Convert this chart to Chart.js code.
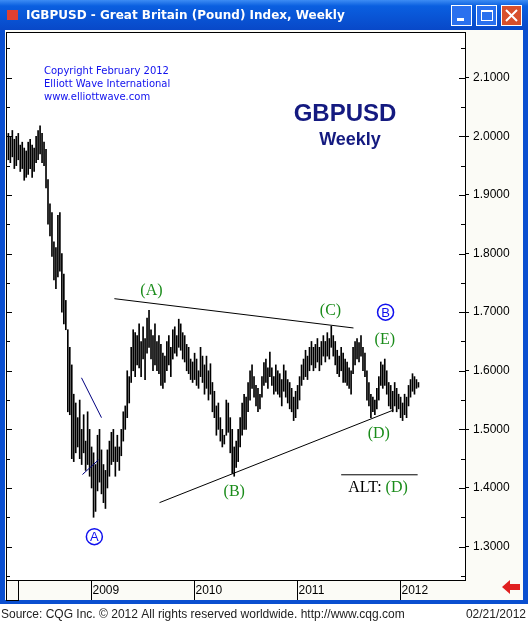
<!DOCTYPE html>
<html><head><meta charset="utf-8">
<script src="https://cdn.jsdelivr.net/npm/chart.js@4"></script>
<style>html,body{margin:0;padding:0;background:#fff}#c{display:block}</style>
</head><body>
<div style="width:528px;height:624px"><canvas id="c" width="528" height="624"></canvas></div>
<script>
// weekly highs / lows, GBPUSD, week 0 = early March 2008
const highs = [
2.005,2.000,2.010,1.995,2.000,2.005,1.985,1.990,1.980,1.975,
1.990,1.995,1.985,1.980,2.000,2.010,2.018,2.005,1.990,1.978,
1.926,1.885,1.870,1.820,1.810,1.865,1.870,1.800,1.765,1.720,
1.670,1.640,1.610,1.560,1.545,1.520,1.550,1.500,1.525,1.480,
1.530,1.500,1.470,1.460,1.440,1.490,1.500,1.465,1.440,1.430,
1.465,1.480,1.495,1.500,1.470,1.490,1.470,1.500,1.530,1.540,
1.600,1.590,1.640,1.670,1.665,1.660,1.680,1.650,1.675,1.655,
1.690,1.703,1.670,1.660,1.680,1.650,1.660,1.645,1.630,1.625,
1.650,1.660,1.640,1.670,1.675,1.660,1.688,1.680,1.665,1.660,
1.645,1.640,1.620,1.615,1.630,1.620,1.600,1.640,1.625,1.610,
1.625,1.600,1.612,1.580,1.565,1.540,1.545,1.520,1.500,1.490,
1.550,1.545,1.520,1.500,1.470,1.480,1.500,1.520,1.545,1.560,
1.555,1.580,1.600,1.610,1.590,1.575,1.570,1.560,1.590,1.614,
1.620,1.605,1.632,1.605,1.590,1.610,1.600,1.595,1.585,1.610,
1.600,1.585,1.580,1.570,1.555,1.565,1.575,1.590,1.610,1.620,
1.635,1.625,1.640,1.650,1.640,1.645,1.655,1.640,1.650,1.660,
1.650,1.665,1.655,1.676,1.660,1.650,1.635,1.625,1.640,1.630,
1.620,1.615,1.605,1.600,1.640,1.650,1.655,1.648,1.660,1.640,
1.630,1.600,1.580,1.560,1.555,1.550,1.570,1.590,1.615,1.610,
1.620,1.600,1.580,1.575,1.565,1.580,1.570,1.560,1.555,1.545,
1.560,1.555,1.575,1.585,1.595,1.590,1.585,1.580];
const lows = [
1.960,1.955,1.965,1.945,1.950,1.960,1.940,1.945,1.925,1.930,
1.935,1.945,1.930,1.940,1.955,1.960,1.970,1.955,1.950,1.912,
1.850,1.830,1.795,1.755,1.740,1.760,1.770,1.700,1.680,1.670,
1.530,1.525,1.450,1.445,1.460,1.470,1.450,1.440,1.460,1.430,
1.440,1.420,1.400,1.350,1.360,1.395,1.410,1.390,1.375,1.365,
1.400,1.420,1.440,1.445,1.420,1.445,1.430,1.455,1.480,1.500,
1.520,1.545,1.580,1.600,1.590,1.610,1.605,1.590,1.620,1.585,
1.630,1.640,1.620,1.600,1.610,1.600,1.595,1.575,1.570,1.580,
1.600,1.610,1.590,1.620,1.630,1.625,1.640,1.635,1.620,1.615,
1.600,1.595,1.585,1.580,1.585,1.575,1.570,1.590,1.580,1.560,
1.570,1.550,1.560,1.530,1.520,1.490,1.500,1.480,1.470,1.475,
1.490,1.495,1.460,1.425,1.420,1.435,1.445,1.470,1.490,1.500,
1.500,1.530,1.550,1.570,1.555,1.540,1.530,1.535,1.555,1.575,
1.580,1.570,1.590,1.575,1.560,1.565,1.560,1.555,1.540,1.565,
1.555,1.545,1.535,1.530,1.515,1.520,1.535,1.550,1.575,1.585,
1.590,1.585,1.600,1.610,1.600,1.605,1.615,1.600,1.610,1.625,
1.615,1.625,1.620,1.640,1.625,1.610,1.595,1.590,1.600,1.580,
1.580,1.575,1.570,1.560,1.595,1.610,1.620,1.615,1.625,1.600,
1.590,1.550,1.540,1.520,1.530,1.525,1.535,1.550,1.575,1.570,
1.575,1.560,1.540,1.535,1.530,1.540,1.530,1.535,1.520,1.515,
1.525,1.520,1.540,1.555,1.565,1.560,1.570,1.572];
const yearLabels = ['2009', '2010', '2011', '2012'];
const yearStartWeek = [41.5, 93.5, 145.5, 197.5];
const priceTicks = [1.3, 1.4, 1.5, 1.6, 1.7, 1.8, 1.9, 2.0, 2.1];
// wave labels [text, week, price, colour, circled]
const waveLabels = [
  ['(A)', 72.2, 1.736, '#1a8c1a', false],
  ['(B)', 114, 1.393, '#1a8c1a', false],
  ['(C)', 162.6, 1.702, '#1a8c1a', false],
  ['(D)', 187, 1.492, '#1a8c1a', false],
  ['(E)', 190, 1.653, '#1a8c1a', false],
  ['A', 43.4, 1.317, '#1010ee', true],
  ['B', 190.4, 1.700, '#1010ee', true]
];
// trend lines [w1, p1, w2, p2, colour]
const trendLines = [
  [53.5, 1.723, 174.2, 1.673, '#000'],
  [76.3, 1.375, 194.4, 1.533, '#000'],
  [36.9, 1.588, 47, 1.520, '#000080'],
  [37.4, 1.423, 45.5, 1.448, '#000080'],
  [168, 1.4225, 206.6, 1.4225, '#000']
];

const bars = highs.map((h, i) => ({x: i, y: [lows[i], h]}));

const decor = {
  id: 'decor',
  beforeDraw(c) {
    const g = c.ctx, a = c.chartArea;
    g.save();
    g.fillStyle = '#fff'; g.fillRect(0, 0, 528, 624);
    // window frame
    const grd = g.createLinearGradient(0, 0, 0, 30);
    grd.addColorStop(0, '#3d8cf4'); grd.addColorStop(0.2, '#0a5fe0'); grd.addColorStop(1, '#0848c8');
    g.fillStyle = grd; g.fillRect(0, 0, 528, 30);
    g.fillStyle = '#0a4fd0';
    g.fillRect(0, 30, 5, 574); g.fillRect(523, 30, 5, 574); g.fillRect(0, 600, 528, 4);
    g.fillStyle = '#fbfbf6'; g.fillRect(5, 30, 518, 570);
    g.fillStyle = '#fff'; g.fillRect(a.left, a.top, a.right - a.left, a.bottom - a.top);
    // title
    g.fillStyle = '#e04030'; g.fillRect(7, 10, 11, 10);
    g.fillStyle = '#fff'; g.font = 'bold 12px "DejaVu Sans"'; g.textBaseline = 'middle';
    g.fillText('IGBPUSD - Great Britain (Pound) Index, Weekly', 26, 16);
    [451, 476].forEach(x => { g.fillStyle = '#2a70ee'; g.fillRect(x, 5, 21, 21); g.strokeStyle = '#fff'; g.strokeRect(x + .5, 5.5, 20, 20); });
    g.fillStyle = '#fff'; g.fillRect(457, 18, 7, 3); g.strokeRect(481.5, 10.5, 11, 10); g.fillRect(481, 10, 12, 2);
    g.fillStyle = '#d8502c'; g.fillRect(501, 5, 21, 21); g.strokeRect(501.5, 5.5, 20, 20);
    g.strokeStyle = '#fff'; g.lineWidth = 2; g.beginPath(); g.moveTo(506, 10); g.lineTo(517, 21); g.moveTo(517, 10); g.lineTo(506, 21); g.stroke();
    g.restore();
  },
  afterDraw(c) {
    const g = c.ctx, a = c.chartArea, xs = c.scales.x, ys = c.scales.y;
    g.save();
    g.strokeStyle = '#000'; g.lineWidth = 1;
    g.strokeRect(a.left + .5, a.top + .5, a.right - a.left, a.bottom - a.top);
    // minor ticks on both edges
    for (let v = 1.25; v < 2.18; v += 0.05) {
      const y = Math.round(ys.getPixelForValue(v)) + .5, len = Math.abs(v * 10 - Math.round(v * 10)) < 0.01 ? 6 : 4;
      g.beginPath(); g.moveTo(a.left, y); g.lineTo(a.left + len, y); g.moveTo(a.right, y); g.lineTo(a.right - len, y); g.stroke();
    }
    // time axis strip
    g.font = '12px "Liberation Sans"'; g.fillStyle = '#000'; g.textBaseline = 'middle'; g.textAlign = 'left';
    g.strokeRect(6.5, a.bottom + .5, 12, 20);
    yearStartWeek.forEach((w, i) => {
      const x = Math.round(xs.getPixelForValue(w)) + .5;
      g.beginPath(); g.moveTo(x, a.bottom); g.lineTo(x, a.bottom + 20); g.stroke();
      g.fillText(yearLabels[i], x + 1, a.bottom + 11);
    });
    // red arrow
    g.fillStyle = '#e02020'; g.beginPath();
    g.moveTo(502, 587); g.lineTo(510, 580); g.lineTo(510, 584); g.lineTo(520, 584); g.lineTo(520, 590); g.lineTo(510, 590); g.lineTo(510, 594); g.closePath(); g.fill();
    // footer
    g.fillStyle = '#222'; g.font = '12px "Liberation Sans"';
    g.fillText('Source: CQG Inc. \u00a9 2012 All rights reserved worldwide. http://www.cqg.com', 1, 615);
    g.textAlign = 'right'; g.fillText('02/21/2012', 526, 615);
    // trend lines
    trendLines.forEach(t => {
      g.strokeStyle = t[4]; g.lineWidth = 1; g.beginPath();
      g.moveTo(xs.getPixelForValue(t[0]), ys.getPixelForValue(t[1]));
      g.lineTo(xs.getPixelForValue(t[2]), ys.getPixelForValue(t[3])); g.stroke();
    });
    // wave labels
    g.textAlign = 'center'; g.textBaseline = 'middle';
    waveLabels.forEach(l => {
      const x = xs.getPixelForValue(l[1]), y = ys.getPixelForValue(l[2]);
      g.fillStyle = l[3];
      if (l[4]) {
        g.strokeStyle = l[3]; g.lineWidth = 1.5; g.beginPath(); g.arc(x, y, 8, 0, Math.PI * 2); g.stroke();
        g.font = '13px "Liberation Sans"'; g.fillText(l[0], x, y + 1);
      } else {
        g.font = '16px "Liberation Serif"'; g.fillText(l[0], x, y);
      }
    });
    // ALT: (D)
    const ax = xs.getPixelForValue(189.4), ay = ys.getPixelForValue(1.40);
    g.font = '16px "Liberation Serif"'; g.textAlign = 'right'; g.fillStyle = '#000'; g.fillText('ALT:', ax - 2, ay);
    g.textAlign = 'left'; g.fillStyle = '#1a8c1a'; g.fillText('(D)', ax + 2, ay);
    // headings
    g.textAlign = 'left'; g.fillStyle = '#1010ee'; g.font = '10px "DejaVu Sans"';
    g.fillText('Copyright February 2012', a.left + 38, a.top + 39);
    g.fillText('Elliott Wave International', a.left + 38, a.top + 52);
    g.fillText('www.elliottwave.com', a.left + 38, a.top + 65);
    g.textAlign = 'center'; g.fillStyle = '#141a80';
    g.font = 'bold 24px "Liberation Sans"'; g.fillText('GBPUSD', 345, 114);
    g.font = 'bold 18px "Liberation Sans"'; g.fillText('Weekly', 350, 140);
    g.restore();
  }
};

new Chart(document.getElementById('c'), {
  type: 'bar',
  data: {
    datasets: [{
      data: bars,
      backgroundColor: '#000',
      borderWidth: 0,
      barThickness: 1
    }]
  },
  options: {
    responsive: false,
    animation: false,
    layout: {padding: {left: 6, top: 32, right: 5, bottom: 44}},
    plugins: {legend: {display: false}, tooltip: {enabled: false}},
    scales: {
      x: {type: 'linear', min: -1.2, max: 230.5, display: false, offset: false},
      y: {
        position: 'right', min: 1.243, max: 2.178,
        afterFit: s => { s.width = 58; },
        afterBuildTicks: s => { s.ticks = priceTicks.map(v => ({value: v})); },
        grid: {drawOnChartArea: false, drawTicks: true, tickLength: 4, color: '#000'},
        border: {display: false},
        ticks: {color: '#000', padding: 4, font: {family: 'Liberation Sans', size: 12}, callback: v => v.toFixed(4)}
      }
    }
  },
  plugins: [decor]
});
</script>
</body></html>
